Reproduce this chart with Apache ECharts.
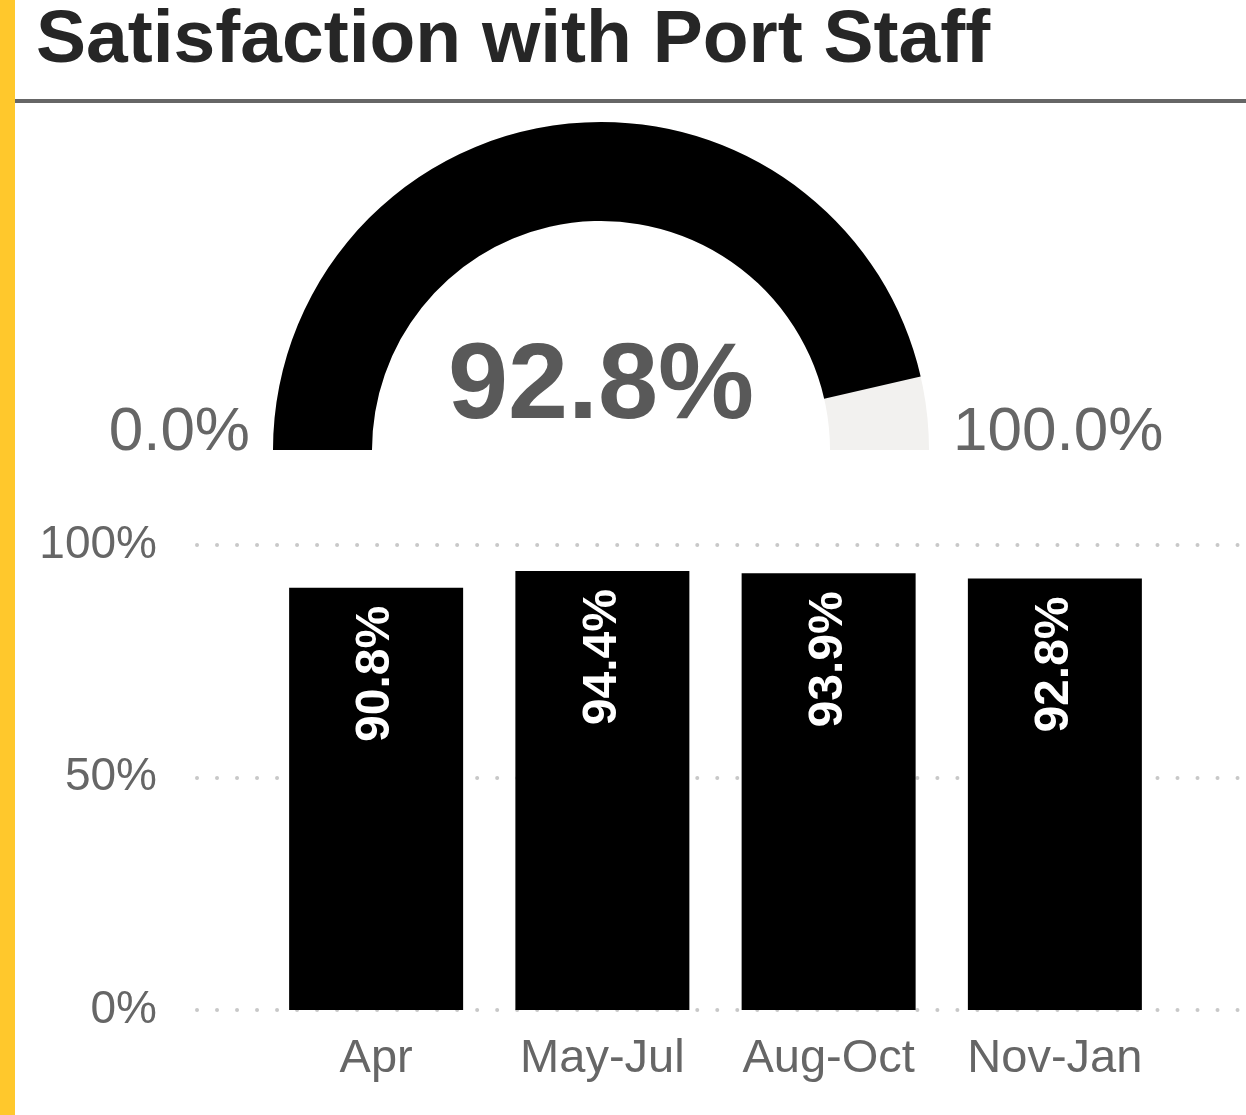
<!DOCTYPE html>
<html>
<head>
<meta charset="utf-8">
<script src="https://cdn.jsdelivr.net/npm/echarts@6/dist/echarts.min.js"></script>
<style>
html,body{margin:0;padding:0;background:#fff;}
#main{width:1246px;height:1115px;}
</style>
</head>
<body>
<div id="main"></div>
<script>
// data
var gaugeValue = 92.8;
var gaugeRange = [0, 100];
var periods = ['Apr', 'May-Jul', 'Aug-Oct', 'Nov-Jan'];
var satisfaction = [90.8, 94.4, 93.9, 92.8];
var yTicks = [0, 50, 100];

var chart = echarts.init(document.getElementById('main'));
var grey = '#666666';

var option = {
	backgroundColor: '#fff',
	animation: false,
	title: {
		text: 'Satisfaction with Port Staff',
		left: 36,
		top: 4,
		padding: 0,
		textStyle: {
			fontFamily: 'Liberation Sans',
			fontWeight: 'bold',
			fontSize: 75,
			color: '#262626'
		}
	},
	graphic: [
		{type: 'rect', shape: {x: 0, y: 0, width: 15, height: 1115}, style: {fill: '#FFC82C'}},
		{type: 'line', shape: {x1: 15, y1: 101, x2: 1246, y2: 101}, style: {stroke: '#666', lineWidth: 4}},
		{type: 'text', x: 250, y: 433, style: {
			text: gaugeRange[0].toFixed(1) + '%', align: 'right', verticalAlign: 'middle',
			font: '62px "Liberation Sans"', fill: grey}},
		{type: 'text', x: 953, y: 433, style: {
			text: gaugeRange[1].toFixed(1) + '%', align: 'left', verticalAlign: 'middle',
			font: '62px "Liberation Sans"', fill: grey}}
	],
	grid: [
		// wide grid only for dotted lines + y labels
		{left: 197, right: -10, top: 545, bottom: 105},
		// bars
		{left: 263, right: 78, top: 545, bottom: 105}
	],
	xAxis: [
		{gridIndex: 0, type: 'value', min: 0, max: 1, show: false},
		{
			gridIndex: 1, type: 'category', data: periods,
			axisLine: {show: false}, axisTick: {show: false},
			axisLabel: {interval: 0, color: grey, fontSize: 47, fontFamily: 'Liberation Sans', margin: 26}
		}
	],
	yAxis: [
		{
			gridIndex: 0, type: 'value', min: yTicks[0], max: yTicks[yTicks.length - 1], interval: 50,
			axisLine: {show: false}, axisTick: {show: false},
			axisLabel: {color: grey, fontSize: 46, fontFamily: 'Liberation Sans', margin: 40,
				formatter: function (v) { return v + '%'; }},
			splitLine: {lineStyle: {color: '#c8c8c8', width: 4, type: [0.01, 20], cap: 'round'}}
		},
		{gridIndex: 1, type: 'value', min: 0, max: 100, show: false, splitLine: {show: false}}
	],
	series: [
		{
			type: 'gauge',
			center: [601, 450],
			radius: 328,
			startAngle: 180,
			endAngle: 0,
			min: gaugeRange[0],
			max: gaugeRange[1],
			progress: {show: true, width: 99, itemStyle: {color: '#000'}},
			axisLine: {lineStyle: {width: 99, color: [[1, '#F2F1EF']]}},
			pointer: {show: false},
			axisTick: {show: false},
			splitLine: {show: false},
			axisLabel: {show: false},
			anchor: {show: false},
			title: {show: false},
			detail: {
				offsetCenter: [0, -62],
				formatter: function (v) { return v.toFixed(1) + '%'; },
				fontFamily: 'Liberation Sans',
				fontWeight: 'bold',
				fontSize: 108,
				color: '#595959'
			},
			data: [{value: gaugeValue}]
		},
		{
			type: 'bar',
			xAxisIndex: 1,
			yAxisIndex: 1,
			data: satisfaction,
			barWidth: 174,
			itemStyle: {color: '#000'},
			label: {
				show: true,
				position: 'insideTop',
				rotate: 90,
				align: 'right',
				verticalAlign: 'middle',
				distance: 18,
				color: '#fff',
				fontFamily: 'Liberation Sans',
				fontWeight: 'bold',
				fontSize: 48,
				formatter: function (p) { return p.value.toFixed(1) + '%'; }
			}
		}
	]
};
chart.setOption(option);
</script>
</body>
</html>
